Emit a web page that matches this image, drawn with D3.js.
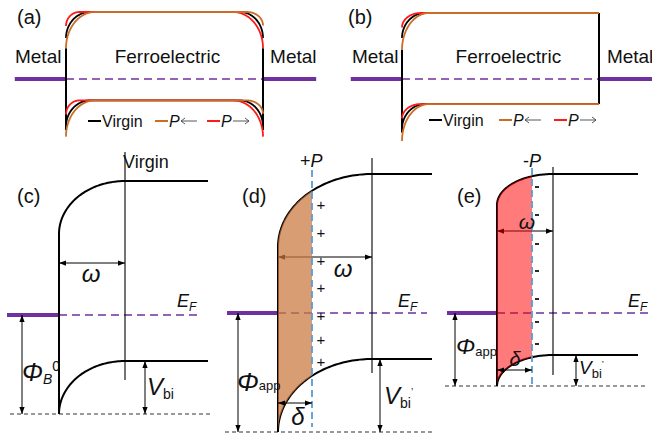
<!DOCTYPE html>
<html><head><meta charset="utf-8">
<script src="https://cdn.jsdelivr.net/npm/d3@7"></script>
<style>body{margin:0;background:#fff}svg{display:block}</style>
</head><body>
<script>
// ================= DATA =================
const panelLabels = ["(a)", "(b)", "(c)", "(d)", "(e)"];
// legend of panels (a),(b)
const legendNames = ["Virgin", "P", "P"];
const legendDirs = ["none", "left", "right"];
// energy levels of panels (a),(b) (E_F = 0)
const topBandE = [1.0, 1.0];
const lowBandE = [-0.32, -0.38];
// interface band bending [Virgin, P<-, P->]
const bendLeftA = [0.39, 0.54, 0.21];
const widthLeftA = [12.2, 14.7, 6.8];
const bendRightA = [0.39, 0.2, 0.54];
const widthRightA = [11.7, 8.1, 15.2];
const bendLeftB = [0.38, 0.56, 0.22];
const widthLeftB = [11.7, 13.7, 9.5];
// panels (c),(d),(e)
const bandTitles = ["Virgin", "+P", "-P"];
const barrierPhi = [0.99, 1.19, 0.73];
const builtInV = [0.53, 0.73, 0.31];
const bandGapE = [1.80, 1.85, 1.81];
const depletionW = [66, 94, 56];
const deltaW = [0, 34, 35];
const plusSignE = [1.08, 0.80, 0.52, 0.25, -0.03, -0.27, -0.49];
const minusSignE = [1.26, 0.98, 0.69, 0.42, 0.14, -0.09, -0.31];

// ================= STYLE / LAYOUT =================
const W = 652, H = 436;
const FONT = "'Liberation Sans', Arial, sans-serif";
const seriesColor = ["#000000", "#C96E28", "#FF1A1A"];
const PURPLE = "#7030A0", BLUE = "#5B9BD5";

const svg = d3.select("body").append("svg").attr("width", W).attr("height", H)
  .style("font-family", FONT);
const defs = svg.append("defs");
defs.append("marker").attr("id", "ahE").attr("viewBox", "0 0 8 6").attr("refX", 8).attr("refY", 3)
  .attr("markerWidth", 7).attr("markerHeight", 6).attr("markerUnits", "userSpaceOnUse").attr("orient", "auto")
  .append("path").attr("d", "M0,0L8,3L0,6Z").attr("fill", "#000");
defs.append("marker").attr("id", "ahS").attr("viewBox", "0 0 8 6").attr("refX", 0).attr("refY", 3)
  .attr("markerWidth", 7).attr("markerHeight", 6).attr("markerUnits", "userSpaceOnUse").attr("orient", "auto")
  .append("path").attr("d", "M8,0L0,3L8,6Z").attr("fill", "#000");

const tS = d3.range(0, 61).map(k => k / 60 * Math.PI / 2);

function label(g, x, y, parts, anchor) {
  const t = g.append("text").attr("x", x).attr("y", y).attr("text-anchor", anchor || "start").attr("fill", "#111");
  parts.forEach(p => {
    const s = t.append("tspan").text(p.t).attr("font-size", p.s);
    if (p.i) s.attr("font-style", "italic");
    if (p.dy) s.attr("dy", p.dy);
    if (p.dx) s.attr("dx", p.dx);
  });
  return t;
}
function dblArrow(g, x1, y1, x2, y2) {
  g.append("line").attr("x1", x1).attr("y1", y1).attr("x2", x2).attr("y2", y2)
    .attr("stroke", "#000").attr("stroke-width", 1)
    .attr("marker-start", "url(#ahS)").attr("marker-end", "url(#ahE)");
}

// panel title labels
const titlePos = [[17, 24], [348, 24], [17, 203], [242, 203], [457, 203]];
panelLabels.forEach((t, i) => label(svg, titlePos[i][0], titlePos[i][1], [{ t, s: 20 }]));

// ================= PANELS (a),(b) =================
const filmRange = [[66, 263], [402, 599]];
const efY = [79, 79];
const topY = [12, 13];
const bendsL = [bendLeftA, bendLeftB];
const widthsL = [widthLeftA, widthLeftB];
const bendsR = [bendRightA, null];
const widthsR = [widthRightA, null];
const legendX = [[88, 155, 207], [429, 499, 554]];
const legendY = [127, 126];

[0, 1].forEach(p => {
  const g = svg.append("g");
  const x = d3.scaleLinear().domain([0, 100]).range(filmRange[p]);
  const y = d3.scaleLinear().domain([0, 1]).range([efY[p], topY[p]]);
  const line = d3.line().x(d => x(d[0])).y(d => y(d[1]));

  // Fermi level
  const rightMetalEnd = p === 0 ? 127 : 130;
  g.append("line").attr("x1", x(-26)).attr("x2", x(0)).attr("y1", y(0)).attr("y2", y(0))
    .attr("stroke", PURPLE).attr("stroke-width", 4);
  g.append("line").attr("x1", x(100)).attr("x2", x(rightMetalEnd)).attr("y1", y(0)).attr("y2", y(0))
    .attr("stroke", PURPLE).attr("stroke-width", 4);
  g.append("line").attr("x1", x(0)).attr("x2", x(100)).attr("y1", y(0)).attr("y2", y(0))
    .attr("stroke", PURPLE).attr("stroke-width", 1.5).attr("stroke-dasharray", "8,5");

  // interface lines
  const bL = bendsL[p], bR = bendsR[p];
  g.append("line").attr("x1", x(0)).attr("x2", x(0))
    .attr("y1", y(topBandE[p] - d3.max(bL))).attr("y2", y(lowBandE[p] - bL[0] - 0.05))
    .attr("stroke", "#000").attr("stroke-width", 2);
  if (bR) {
    g.append("line").attr("x1", x(100)).attr("x2", x(100))
      .attr("y1", y(topBandE[p] - d3.max(bR))).attr("y2", y(lowBandE[p] - bR[0] - 0.05))
      .attr("stroke", "#000").attr("stroke-width", 2);
  } else {
    g.append("line").attr("x1", x(100)).attr("x2", x(100))
      .attr("y1", y(topBandE[p])).attr("y2", y(lowBandE[p]))
      .attr("stroke", "#000").attr("stroke-width", 2);
  }

  // band curves
  [0, 2, 1].forEach(s => {
    [topBandE[p], lowBandE[p]].forEach(E => {
      const pts = [];
      tS.forEach(t => pts.push([widthsL[p][s] * (1 - Math.cos(t)), E - bL[s] * (1 - Math.sin(t))]));
      if (bR) {
        tS.slice().reverse().forEach(t => pts.push([100 - widthsR[p][s] * (1 - Math.cos(t)), E - bR[s] * (1 - Math.sin(t))]));
      } else pts.push([100, E]);
      g.append("path").attr("d", line(pts)).attr("fill", "none")
        .attr("stroke", seriesColor[s]).attr("stroke-width", 1.8);
    });
  });

  // texts
  const metalPos = p === 0 ? [-25.9, 103.6] : [-25.4, 104];
  label(g, x(metalPos[0]), 63, [{ t: "Metal", s: 19 }]);
  label(g, x(metalPos[1]), 63, [{ t: "Metal", s: 19 }]);
  label(g, x(p === 0 ? 51.5 : 54), 63, [{ t: "Ferroelectric", s: 19 }], "middle");

  // legend
  legendNames.forEach((n, k) => {
    const lx = legendX[p][k], ly = legendY[p];
    g.append("line").attr("x1", lx).attr("x2", lx + 13).attr("y1", ly - 6).attr("y2", ly - 6)
      .attr("stroke", seriesColor[k]).attr("stroke-width", 2);
    label(g, lx + 14, ly, [{ t: n, s: 16, i: legendDirs[k] !== "none" }]);
    if (legendDirs[k] !== "none") {
      const ax1 = lx + 26, ax2 = lx + 42, ay = ly - 6;
      g.append("line").attr("x1", ax1).attr("x2", ax2).attr("y1", ay).attr("y2", ay)
        .attr("stroke", "#444").attr("stroke-width", 0.9);
      const hx = legendDirs[k] === "left" ? ax1 : ax2, sgn = legendDirs[k] === "left" ? 1 : -1;
      g.append("path").attr("d", `M${hx + sgn * 4},${ay - 3}L${hx},${ay}L${hx + sgn * 4},${ay + 3}`)
        .attr("fill", "none").attr("stroke", "#444").attr("stroke-width", 0.9);
    }
  });
});

// ================= PANELS (c),(d),(e) =================
const bandX0 = [59, 278, 497];
const bandYEF = [315, 313, 313];
const bandEnd = [149, 154, 141];
const efDashEnd = [141, 149, 160];
const metalStart = [-52, -51, -50];
const refRange = [[-49, 153], [-53, 154], [-52, 148]];
const markLine = [[1.63, -0.65], [1.55, -0.60], [1.46, -0.62]];
const polLine = [null, [1.43, -1.14], [1.45, -0.74]];
const omegaArrowE = [0.52, 0.56, 0.82];
const phiArrowX = [-37, -40, -42];
const vbiArrowX = [86, 102, 79];
const deltaArrowE = [0, -0.90, -0.57];
const fillColor = [null, "#CA773E", "#FF0000"];
const fillOpacity = [0, 0.72, 0.52];

[0, 1, 2].forEach(i => {
  const g = svg.append("g");
  const x = d3.scaleLinear().domain([0, 100]).range([bandX0[i], bandX0[i] + 100]);
  const y = d3.scaleLinear().domain([0, 1]).range([bandYEF[i], bandYEF[i] - 100]);
  const line = d3.line().x(d => x(d[0])).y(d => y(d[1]));
  const phi = barrierPhi[i], vb = builtInV[i], w = depletionW[i];
  const Elow = -phi + vb, Etop = Elow + bandGapE[i];

  // Fermi level
  g.append("line").attr("x1", x(metalStart[i])).attr("x2", x(0)).attr("y1", y(0)).attr("y2", y(0))
    .attr("stroke", PURPLE).attr("stroke-width", 4);
  g.append("line").attr("x1", x(0)).attr("x2", Math.min(x(efDashEnd[i]), W)).attr("y1", y(0)).attr("y2", y(0))
    .attr("stroke", PURPLE).attr("stroke-width", 1.5).attr("stroke-dasharray", "8,5");
  // reference (bottom) dashed
  g.append("line").attr("x1", x(refRange[i][0])).attr("x2", x(refRange[i][1])).attr("y1", y(-phi)).attr("y2", y(-phi))
    .attr("stroke", "#333").attr("stroke-width", 1).attr("stroke-dasharray", "4,3");

  // marker vertical line at depletion edge
  g.append("line").attr("x1", x(w)).attr("x2", x(w)).attr("y1", y(markLine[i][0])).attr("y2", y(markLine[i][1]))
    .attr("stroke", "#000").attr("stroke-width", 1.1);
  // interface line
  g.append("line").attr("x1", x(0)).attr("x2", x(0)).attr("y1", y(Etop - vb)).attr("y2", y(-phi))
    .attr("stroke", "#000").attr("stroke-width", 2);
  // bands
  [Etop, Elow].forEach(E => {
    const pts = tS.map(t => [w * (1 - Math.cos(t)), E - vb * (1 - Math.sin(t))]);
    pts.push([bandEnd[i], E]);
    g.append("path").attr("d", line(pts)).attr("fill", "none").attr("stroke", "#000").attr("stroke-width", 2);
  });

  // omega arrow
  dblArrow(g, x(0), y(omegaArrowE[i]), x(w), y(omegaArrowE[i]));

  // polarization fill
  if (deltaW[i] > 0) {
    const tD = Math.acos(1 - deltaW[i] / w);
    const ts = d3.range(0, 41).map(k => k / 40 * tD);
    const area = d3.area().x(t => x(w * (1 - Math.cos(t))))
      .y0(t => y(Elow - vb * (1 - Math.sin(t)))).y1(t => y(Etop - vb * (1 - Math.sin(t))));
    g.append("path").attr("d", area(ts)).attr("fill", fillColor[i]).attr("fill-opacity", fillOpacity[i]);
    g.append("line").attr("x1", x(deltaW[i])).attr("x2", x(deltaW[i]))
      .attr("y1", y(polLine[i][0])).attr("y2", y(polLine[i][1]))
      .attr("stroke", BLUE).attr("stroke-width", 1.8).attr("stroke-dasharray", "7,4");
    // charge signs
    const signs = i === 1 ? plusSignE : minusSignE;
    const sx = i === 1 ? deltaW[i] + 9 : deltaW[i] + 5;
    signs.forEach(E => {
      if (i === 1) {
        label(g, x(sx), y(E) + 5, [{ t: "+", s: 15 }], "middle");
      } else {
        g.append("line").attr("x1", x(sx) - 2).attr("x2", x(sx) + 2).attr("y1", y(E)).attr("y2", y(E))
          .attr("stroke", "#111").attr("stroke-width", 1.8);
      }
    });
    // delta arrow
    dblArrow(g, x(0), y(deltaArrowE[i]), x(deltaW[i]), y(deltaArrowE[i]));
  }
  // phi and Vbi arrows
  dblArrow(g, x(phiArrowX[i]), y(0), x(phiArrowX[i]), y(-phi));
  dblArrow(g, x(vbiArrowX[i]), y(Elow), x(vbiArrowX[i]), y(-phi));
});

// ---- texts of (c),(d),(e) ----
// (c)
label(svg, 123, 168, [{ t: "Virgin", s: 18 }]);
label(svg, 91, 282, [{ t: "ω", s: 24, i: true }], "middle");
label(svg, 177, 307, [{ t: "E", s: 18, i: true }, { t: "F", s: 12, i: true, dy: 4 }]);
label(svg, 22, 381, [{ t: "Φ", s: 25, i: true }, { t: "B", s: 14, i: true, dy: 3 }, { t: "0", s: 14, dy: -13 }]);
label(svg, 147, 395, [{ t: "V", s: 24, i: true }, { t: "bi", s: 14, dy: 4 }]);
// (d)
label(svg, 300, 167, [{ t: "+", s: 18 }, { t: "P", s: 18, i: true }]);
label(svg, 343, 277, [{ t: "ω", s: 24, i: true }], "middle");
label(svg, 398, 307, [{ t: "E", s: 18, i: true }, { t: "F", s: 12, i: true, dy: 4 }]);
label(svg, 237, 391, [{ t: "Φ", s: 26, i: true }, { t: "app", s: 13, dy: -1 }]);
label(svg, 384, 404, [{ t: "V", s: 24, i: true }, { t: "bi", s: 14, dy: 4 }, { t: "’", s: 10, dy: -12 }]);
label(svg, 298, 425, [{ t: "δ", s: 24, i: true }], "middle");
// (e)
label(svg, 523, 167, [{ t: "-", s: 18 }, { t: "P", s: 18, i: true }]);
label(svg, 527, 229, [{ t: "ω", s: 21, i: true }], "middle");
label(svg, 628, 307, [{ t: "E", s: 18, i: true }, { t: "F", s: 12, i: true, dy: 4 }]);
label(svg, 456, 354, [{ t: "Φ", s: 23, i: true }, { t: "app", s: 13, dy: 2 }]);
label(svg, 579, 374, [{ t: "V", s: 19, i: true }, { t: "bi", s: 13, dy: 4 }, { t: "’", s: 9, dy: -11 }]);
label(svg, 515, 366, [{ t: "δ", s: 20, i: true }], "middle");
</script>
</body></html>
